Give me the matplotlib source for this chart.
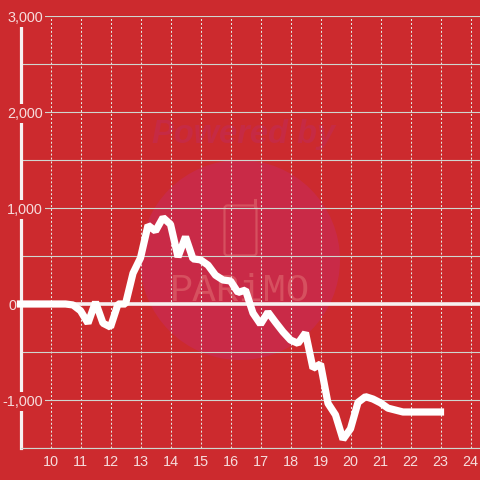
import matplotlib
matplotlib.use("Agg")
import matplotlib.pyplot as plt
from matplotlib.patches import Circle, FancyBboxPatch

hours = [9, 9.25, 9.5, 9.75, 10, 10.25, 10.5, 10.75, 11, 11.25, 11.5, 11.75, 12, 12.25, 12.5,
         12.75, 13, 13.25, 13.5, 13.75, 14, 14.25, 14.5, 14.75, 15, 15.25, 15.5, 15.75, 16,
         16.25, 16.5, 16.75, 17, 17.25, 17.5, 17.75, 18, 18.25, 18.5, 18.75, 19, 19.25, 19.5,
         19.75, 20, 20.25, 20.5, 20.75, 21, 21.25, 21.5, 21.75, 22, 22.25, 22.5, 22.75, 23]
values = [0, 0, 0, 0, 0, 0, 0, -10, -70, -200, 20, -200, -240, 0, 0,
          320, 480, 820, 760, 900, 830, 490, 700, 470, 460, 405, 300, 250, 240,
          120, 145, -95, -210, -85, -190, -290, -375, -410, -300, -670, -625, -1035, -1155,
          -1410, -1300, -1025, -965, -990, -1030, -1085, -1105, -1125, -1125, -1125, -1125, -1125, -1125]
x_ticks = list(range(10, 25))
y_major = [-1000, 0, 1000, 2000, 3000]
y_minor = [-1500, -500, 500, 1500, 2500]
y_labels = ["-1,000", "0", "1,000", "2,000", "3,000"]

BG = "#CC2A2E"
TXT = "#F6DCDC"
GRID = "#CFD6D0"
MARK = "#D6505F"
plt.rcParams["font.family"] = ["Liberation Sans", "DejaVu Sans"]

fig = plt.figure(figsize=(4.8, 4.8), dpi=100, facecolor=BG)

# watermark layer, in pixel coordinates
bg = fig.add_axes([0, 0, 1, 1], zorder=0)
bg.set_xlim(0, 480)
bg.set_ylim(480, 0)
bg.axis("off")
bg.add_patch(Circle((240, 260), 100, fc="#C92A47", ec="none"))
bg.text(243, 134, "Powered by", ha="center", va="center", fontsize=23.5, fontweight="bold",
        fontstyle="italic", color="#C62A44")
bg.text(240, 291, "PARiMO", ha="center", va="center", fontsize=28, family="Liberation Mono",
        color=MARK)
bg.add_patch(FancyBboxPatch((226, 207), 29, 47, boxstyle="round,pad=1.5,rounding_size=3",
                            fc="none", ec=MARK, lw=1.6))
bg.plot([255, 255], [200, 207], color=MARK, lw=2.2)

ax = fig.add_axes([20.5 / 480, 32 / 480, 459.5 / 480, 432 / 480], zorder=1)
ax.patch.set_alpha(0)
ax.set_xlim(9, 9 + 459.5 / 30)
ax.set_ylim(-1500, 3000)

for s in ("top", "right"):
    ax.spines[s].set_visible(False)
ax.spines["left"].set_color("#F7F1F1")
ax.spines["left"].set_linewidth(2.3)
ax.spines["bottom"].set_color(GRID)
ax.spines["bottom"].set_linewidth(0.8)

ax.set_xticks(x_ticks)
ax.set_yticks(y_major)
ax.set_yticks(y_minor, minor=True)
ax.tick_params(axis="both", which="both", length=0)
ax.tick_params(axis="x", pad=5, labelsize=10.4, labelcolor=TXT)
ax.tick_params(axis="y", labelleft=False)

ax.grid(True, axis="y", which="both", color=GRID, lw=0.8)
ax.grid(True, axis="x", which="major", color="#E4ECE4", lw=0.75, linestyle=(0, (1.9, 1.9)))
ax.set_axisbelow(True)

ax.axhline(0, color="#F7F1F1", lw=2.6, zorder=2)
ax.plot(hours, values, color="white", lw=5.2, solid_joinstyle="bevel",
        solid_capstyle="projecting", zorder=4, clip_on=False)

for val, lab in zip(y_major, y_labels):
    if val == 0:
        ax.annotate(lab, (0, val), xycoords=ax.get_yaxis_transform(), xytext=(-4.5, -1.5),
                    textcoords="offset pixels", ha="right", va="center",
                    fontsize=10.4, color=TXT, zorder=6, annotation_clip=False)
    else:
        ax.annotate(lab, (0, val), xycoords=ax.get_yaxis_transform(), xytext=(22.5, -1.5),
                    textcoords="offset pixels", ha="right", va="center",
                    fontsize=10.4, color=TXT, zorder=6, annotation_clip=False,
                    bbox=dict(fc=BG, ec="none", pad=1.5))

fig.savefig("out.png", dpi=100, facecolor=BG)
